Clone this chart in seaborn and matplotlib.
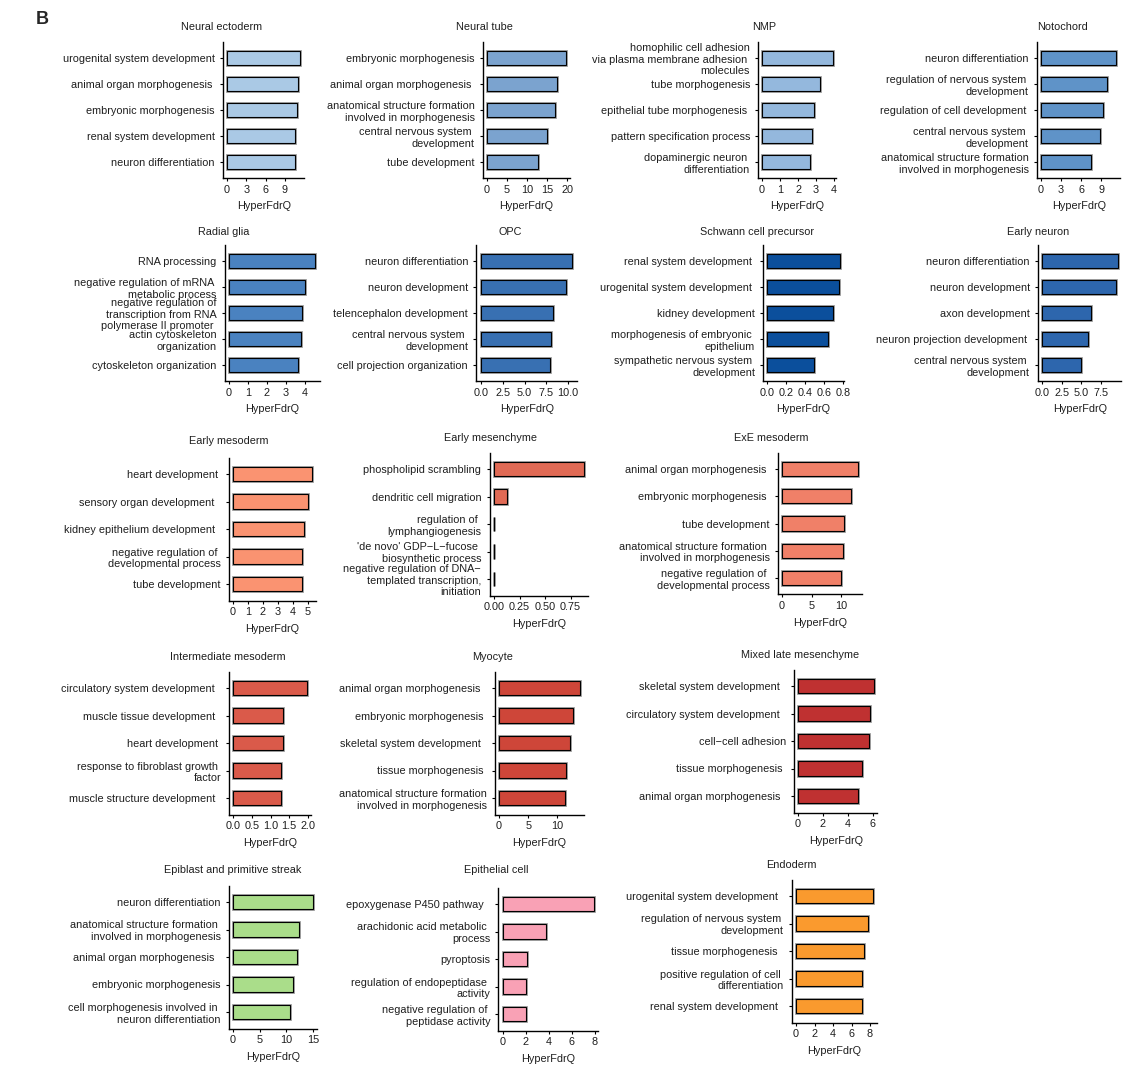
import matplotlib
matplotlib.use("Agg")
import matplotlib.pyplot as plt
import matplotlib.patheffects as pe
import seaborn as sns
import pandas as pd

W, H = 1138, 1071

# ---- data: top GO terms per cell type (HyperFdrQ) ----
ne_terms = ["urogenital system development", "animal organ morphogenesis ", "embryonic morphogenesis",
            "renal system development", "neuron differentiation"]
ne_vals = [11.4, 11.0, 10.8, 10.6, 10.5]

nt_terms = ["embryonic morphogenesis", "animal organ morphogenesis ",
            "anatomical structure formation\ninvolved in morphogenesis",
            "central nervous system \ndevelopment", "tube development"]
nt_vals = [19.8, 17.5, 17.0, 14.9, 12.7]

nmp_terms = ["homophilic cell adhesion\nvia plasma membrane adhesion \nmolecules", "tube morphogenesis",
             "epithelial tube morphogenesis ", "pattern specification process",
             "dopaminergic neuron \ndifferentiation"]
nmp_vals = [3.92, 3.24, 2.88, 2.78, 2.64]

noto_terms = ["neuron differentiation", "regulation of nervous system \ndevelopment",
              "regulation of cell development ", "central nervous system \ndevelopment",
              "anatomical structure formation\ninvolved in morphogenesis"]
noto_vals = [11.25, 9.85, 9.27, 8.75, 7.5]

rg_terms = ["RNA processing", "negative regulation of mRNA \nmetabolic process",
            "negative regulation of\ntranscription from RNA\npolymerase II promoter ",
            "actin cytoskeleton\norganization", "cytoskeleton organization"]
rg_vals = [4.54, 3.98, 3.83, 3.77, 3.63]

opc_terms = ["neuron differentiation", "neuron development", "telencephalon development",
             "central nervous system \ndevelopment", "cell projection organization"]
opc_vals = [10.5, 9.8, 8.3, 8.05, 7.95]

scp_terms = ["renal system development ", "urogenital system development ", "kidney development",
             "morphogenesis of embryonic \nepithelium", "sympathetic nervous system \ndevelopment"]
scp_vals = [0.77, 0.76, 0.70, 0.645, 0.495]

en_terms = ["neuron differentiation", "neuron development", "axon development",
            "neuron projection development ", "central nervous system \ndevelopment"]
en_vals = [9.6, 9.4, 6.2, 5.8, 4.9]

em_terms = ["heart development ", "sensory organ development  ", "kidney epithelium development  ",
            "negative regulation of \ndevelopmental process", "tube development"]
em_vals = [5.25, 5.0, 4.72, 4.62, 4.57]

emes_terms = ["phospholipid scrambling", "dendritic cell migration", "regulation of \nlymphangiogenesis",
              "'de novo' GDP\u2212L\u2212fucose \nbiosynthetic process",
              "negative regulation of DNA\u2212\ntemplated transcription,\ninitiation"]
emes_vals = [0.88, 0.13, 0.004, 0.004, 0.004]

exe_terms = ["animal organ morphogenesis ", "embryonic morphogenesis ", "tube development",
             "anatomical structure formation \ninvolved in morphogenesis",
             "negative regulation of \ndevelopmental process"]
exe_vals = [12.9, 11.65, 10.5, 10.4, 10.0]

im_terms = ["circulatory system development  ", "muscle tissue development  ", "heart development ",
            "response to fibroblast growth \nfactor", "muscle structure development  "]
im_vals = [1.98, 1.34, 1.32, 1.29, 1.27]

myo_terms = ["animal organ morphogenesis  ", "embryonic morphogenesis ", "skeletal system development  ",
             "tissue morphogenesis ", "anatomical structure formation\ninvolved in morphogenesis"]
myo_vals = [13.9, 12.7, 12.1, 11.5, 11.3]

mlm_terms = ["skeletal system development  ", "circulatory system development  ", "cell\u2212cell adhesion",
             "tissue morphogenesis ", "animal organ morphogenesis  "]
mlm_vals = [6.05, 5.73, 5.67, 5.1, 4.81]

epi_terms = ["neuron differentiation", "anatomical structure formation \ninvolved in morphogenesis",
             "animal organ morphogenesis  ", "embryonic morphogenesis",
             "cell morphogenesis involved in \nneuron differentiation"]
epi_vals = [15.0, 12.45, 12.1, 11.3, 10.7]

epc_terms = ["epoxygenase P450 pathway  ", "arachidonic acid metabolic \nprocess", "pyroptosis",
             "regulation of endopeptidase \nactivity", "negative regulation of \npeptidase activity"]
epc_vals = [7.87, 3.77, 2.07, 2.03, 2.0]

endo_terms = ["urogenital system development  ", "regulation of nervous system \ndevelopment",
              "tissue morphogenesis  ", "positive regulation of cell \ndifferentiation",
              "renal system development  "]
endo_vals = [8.29, 7.82, 7.39, 7.18, 7.14]

# ---- panels: title, terms, values, colour, ticks, tick format ----
panels = [
    ("Neural ectoderm", ne_terms, ne_vals, "#AAC9E5", [0, 3, 6, 9], "{:.0f}"),
    ("Neural tube", nt_terms, nt_vals, "#7BA3CF", [0, 5, 10, 15, 20], "{:.0f}"),
    ("NMP", nmp_terms, nmp_vals, "#94B8DD", [0, 1, 2, 3, 4], "{:.0f}"),
    ("Notochord", noto_terms, noto_vals, "#5F93C8", [0, 3, 6, 9], "{:.0f}"),
    ("Radial glia", rg_terms, rg_vals, "#4A82C0", [0, 1, 2, 3, 4], "{:.0f}"),
    ("OPC", opc_terms, opc_vals, "#3870B2", [0, 2.5, 5, 7.5, 10], "{:.1f}"),
    ("Schwann cell precursor", scp_terms, scp_vals, "#0B4F9C", [0, 0.2, 0.4, 0.6, 0.8], "{:.1f}"),
    ("Early neuron", en_terms, en_vals, "#2D66AD", [0, 2.5, 5, 7.5], "{:.1f}"),
    ("Early mesoderm", em_terms, em_vals, "#FA9371", [0, 1, 2, 3, 4, 5], "{:.0f}"),
    ("Early mesenchyme", emes_terms, emes_vals, "#E06A55", [0, 0.25, 0.5, 0.75], "{:.2f}"),
    ("ExE mesoderm", exe_terms, exe_vals, "#F08068", [0, 5, 10], "{:.0f}"),
    ("Intermediate mesoderm", im_terms, im_vals, "#DA5A4A", [0, 0.5, 1, 1.5, 2], "{:.1f}"),
    ("Myocyte", myo_terms, myo_vals, "#CE4639", [0, 5, 10], "{:.0f}"),
    ("Mixed late mesenchyme", mlm_terms, mlm_vals, "#BF3131", [0, 2, 4, 6], "{:.0f}"),
    ("Epiblast and primitive streak", epi_terms, epi_vals, "#AADD8A", [0, 5, 10, 15], "{:.0f}"),
    ("Epithelial cell", epc_terms, epc_vals, "#F9A1B5", [0, 2, 4, 6, 8], "{:.0f}"),
    ("Endoderm", endo_terms, endo_vals, "#FA9A2E", [0, 2, 4, 6, 8], "{:.0f}"),
]

# layout in pixels: x of zero, px per unit, y of first / last bar, title x / y
layout = [
    (227, 6.44, 58, 162, 222, 27),
    (487, 4.0, 58, 162, 484, 27),
    (762, 18.0, 58, 162, 764, 27),
    (1041, 6.7, 58, 162, 1062, 27),
    (229, 19.0, 261, 365, 224, 232),
    (481, 8.7, 261, 365, 510, 232),
    (767, 95.0, 261, 365, 757, 232),
    (1042, 7.87, 261, 365, 1038, 232),
    (233, 15.0, 474, 584, 229, 441),
    (494, 102.0, 469, 579, 490, 438),
    (782, 5.9, 469, 578, 771, 438),
    (233, 37.5, 688, 798, 228, 657),
    (499, 5.84, 688, 798, 493, 657),
    (798, 12.5, 686, 796, 800, 655),
    (233, 5.33, 902, 1012, 233, 870),
    (503, 11.5, 904, 1014, 496, 870),
    (796, 9.25, 896, 1006, 791, 865),
]

sns.set_style("ticks")
plt.rcParams["font.family"] = ["Liberation Sans", "DejaVu Sans"]
FS = 7.8

fig = plt.figure(figsize=(W / 100, H / 100), dpi=100)
fig.patch.set_facecolor("white")

for (title, terms, vals, color, ticks, fmt), (x0, s, y1, y5, tx, ty) in zip(panels, layout):
    m = max(vals)
    step = (y5 - y1) / 4
    left = x0 - 0.05 * m * s
    width = 1.1 * m * s
    top = y1 - 0.6 * step
    bottom = y5 + 0.6 * step
    ax = fig.add_axes([left / W, 1 - bottom / H, width / W, (bottom - top) / H])

    df = pd.DataFrame({"term": terms, "q": vals})
    sns.barplot(data=df, x="q", y="term", orient="h", color=color, saturation=1,
                width=0.52, edgecolor="black", linewidth=0.8, ax=ax)
    for p in ax.patches:
        p.set_path_effects([pe.withStroke(linewidth=2.0, foreground="#9a9a9a")])

    ax.set_xlim(-0.05 * m, 1.05 * m)
    ax.set_ylim(4.6, -0.6)
    ax.set_xticks(ticks)
    ax.set_xticklabels([fmt.format(t) for t in ticks])
    sns.despine(ax=ax)
    for sp in ["left", "bottom"]:
        ax.spines[sp].set_linewidth(1.0)
        ax.spines[sp].set_color("black")
    ax.tick_params(axis="both", length=2.5, width=0.8, color="black",
                   labelsize=FS, labelcolor="#1e1e1e", pad=2.5)
    ax.tick_params(axis="y", pad=3.5)
    ax.set_ylabel("")
    ax.set_xlabel("HyperFdrQ", fontsize=FS, color="#1e1e1e", labelpad=5)
    ax.set_facecolor("none")

    fig.text(tx / W, 1 - ty / H, title, ha="center", va="center", fontsize=FS, color="#1e1e1e")

fig.text(42 / W, 1 - 20 / H, "B", ha="center", va="center", fontsize=13, fontweight="bold")

fig.savefig("out.png", dpi=100, facecolor="white")
